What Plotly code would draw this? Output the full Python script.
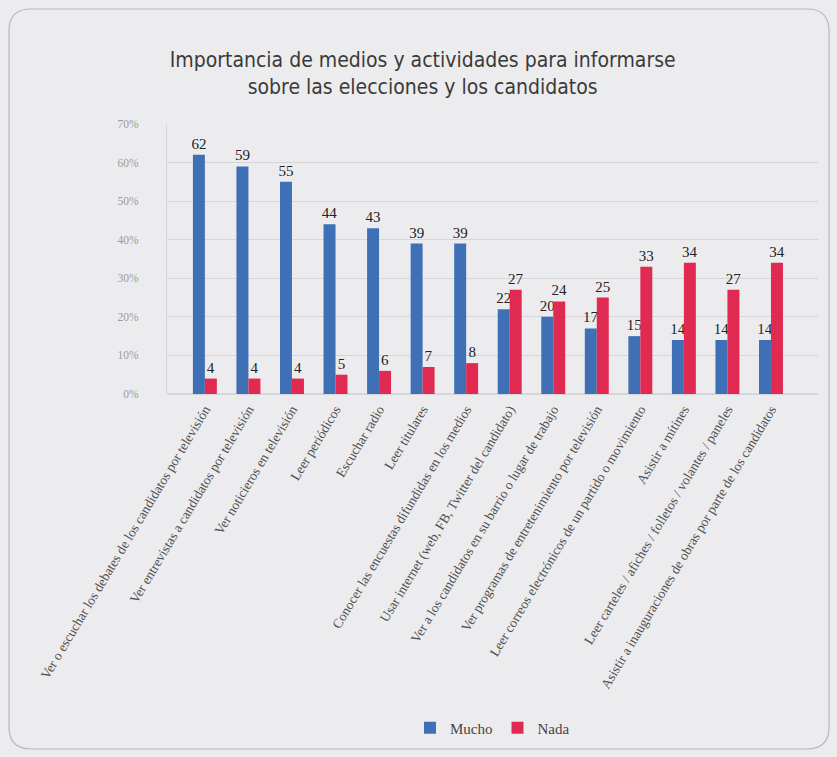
import plotly.graph_objects as go

categories = [
    "Ver o escuchar los debates de los candidatos por televisión",
    "Ver entrevistas a candidatos por televisión",
    "Ver noticieros en televisión",
    "Leer periódicos",
    "Escuchar radio",
    "Leer titulares",
    "Conocer las encuestas difundidas en los medios",
    "Usar internet (web, FB, Twitter del candidato)",
    "Ver a los candidatos en su barrio o lugar de trabajo",
    "Ver programas de entretenimiento por televisión",
    "Leer correos electrónicos de un partido o movimiento",
    "Asistir a mítines",
    "Leer carteles / afiches / folletos / volantes / paneles",
    "Asistir a inauguraciones de obras por parte de los candidatos",
]
mucho = [62, 59, 55, 44, 43, 39, 39, 22, 20, 17, 15, 14, 14, 14]
nada = [4, 4, 4, 5, 6, 7, 8, 27, 24, 25, 33, 34, 27, 34]
y_ticks = [0, 10, 20, 30, 40, 50, 60, 70]
y_tick_labels = ["0%", "10%", "20%", "30%", "40%", "50%", "60%", "70%"]

BLUE = "#3f70b5"
RED = "#e02a52"
SERIF = "Liberation Serif, Times New Roman, serif"
BG = "#ececef"

fig = go.Figure()
for name, vals, color in [("Mucho", mucho, BLUE), ("Nada", nada, RED)]:
    fig.add_trace(go.Bar(
        name=name,
        x=categories,
        y=vals,
        marker=dict(color=color, line=dict(width=0)),
        text=vals,
        texttemplate="%{text}",
        textposition="outside",
        constraintext="none",
        textfont=dict(family=SERIF, size=15, color="#222222"),
        cliponaxis=False,
    ))

W, H = 837, 757
l, r_m, t, b = 167, 19, 124, 363
pw, ph = W - l - r_m, H - t - b

fig.update_layout(
    width=W,
    height=H,
    margin=dict(l=l, r=r_m, t=t, b=b),
    paper_bgcolor=BG,
    plot_bgcolor=BG,
    barmode="group",
    bargap=0.45,
    bargroupgap=0,
    title=dict(
        text="Importancia de medios y actividades para informarse<br>sobre las elecciones y los candidatos",
        x=0.505,
        xanchor="center",
        y=(H - 67) / H,
        yanchor="middle",
        font=dict(family="DejaVu Sans Condensed, sans-serif", size=21, color="#3a3a3a"),
    ),
    legend=dict(
        orientation="h",
        x=0.5,
        xanchor="center",
        y=(394 - 728) / ph,
        yanchor="middle",
        font=dict(family=SERIF, size=15, color="#444444"),
        bgcolor="rgba(0,0,0,0)",
    ),
    xaxis=dict(
        range=[-0.87, 14.08],
        tickangle=-59,
        tickfont=dict(family=SERIF, size=13.5, color="#505050"),
        showgrid=False,
        showline=False,
        ticks="",
        ticklabelstandoff=4,
    ),
    yaxis=dict(
        range=[0, 70],
        tickvals=y_ticks,
        ticktext=y_tick_labels,
        tickfont=dict(family=SERIF, size=11.5, color="#9a9a9a"),
        showgrid=True,
        gridcolor="#d6d6d9",
        gridwidth=1,
        zeroline=True,
        zerolinecolor="#d6d6d9",
        showline=True,
        linecolor="#d6d6d9",
        ticklabelstandoff=25,
    ),
)


# rounded frame around the whole panel
def px(xp):
    return (xp - l) / pw


def py(yp):
    return (H - b - yp) / ph


x0, y0, x1, y1, rad = 9, 9, 829, 749, 22
frame = (
    f"M {px(x0 + rad)} {py(y0)} L {px(x1 - rad)} {py(y0)} "
    f"Q {px(x1)} {py(y0)} {px(x1)} {py(y0 + rad)} "
    f"L {px(x1)} {py(y1 - rad)} Q {px(x1)} {py(y1)} {px(x1 - rad)} {py(y1)} "
    f"L {px(x0 + rad)} {py(y1)} Q {px(x0)} {py(y1)} {px(x0)} {py(y1 - rad)} "
    f"L {px(x0)} {py(y0 + rad)} Q {px(x0)} {py(y0)} {px(x0 + rad)} {py(y0)} Z"
)
fig.update_layout(shapes=[dict(type="path", xref="paper", yref="paper", path=frame,
                               line=dict(color="#b8b8bc", width=1.2), layer="below")])

fig.write_html("out.html")
